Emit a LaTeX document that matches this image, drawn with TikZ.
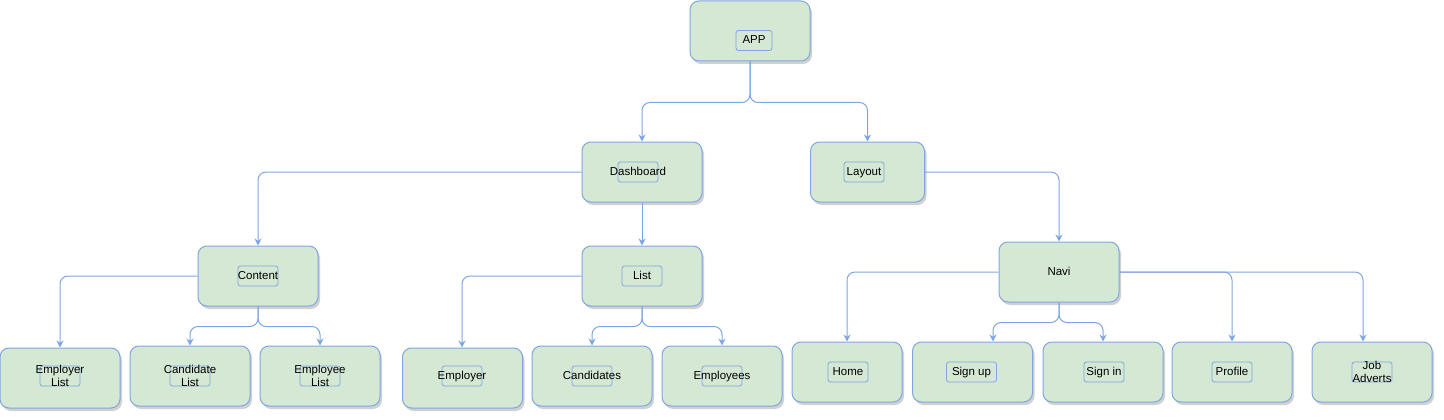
\documentclass[tikz,border=0pt]{standalone}
\usepackage{fontspec}
\setmainfont{Liberation Sans}
\usepackage{xcolor}
\usepackage{tikz}
\usetikzlibrary{arrows.meta,shadows}

\definecolor{boxfill}{HTML}{D5E8D4}
\definecolor{boxline}{HTML}{7EA6E0}

\tikzset{
  box/.style={draw=boxline, fill=boxfill, line width=1pt, rounded corners=9pt,
    minimum width=120pt, minimum height=60pt, inner sep=0pt,
    drop shadow={shadow xshift=2pt, shadow yshift=-3pt, opacity=0.3, fill=black!60}},
  tag/.style={draw=boxline, line width=0.8pt, rounded corners=2.5pt,
    minimum width=40pt, minimum height=20pt, inner sep=0pt},
  txt2/.style={text=black, align=center, inner sep=0pt,
    font=\fontsize{11.5}{12.5}\selectfont},
  txt/.style={txt2, text height=8.3pt, text depth=2.3pt},
  link/.style={draw=boxline, line width=1pt, rounded corners=8pt,
    -{Stealth[length=7pt,width=7pt]}}
}

\begin{document}
\begin{tikzpicture}[x=1pt, y=-1pt]
    \useasboundingbox (0,0) rectangle (1444,420);

    % Top level
    \node[box] (app) at (750,31) {};
    \node[tag, minimum width=36pt, label={[txt]center:APP}] (app-in) at (754,40.5) {};

    % Second level
    \node[box] (dash) at (642,172) {};
    \node[tag, label={[txt]center:Dashboard}] (dash-in) at (638,172) {};
    \node[box, minimum width=114pt] (layout) at (867.5,172) {};
    \node[tag, label={[txt]center:Layout}] (layout-in) at (864,172) {};

    % Third level
    \node[box] (content) at (258,276) {};
    \node[tag, label={[txt]center:Content}] (content-in) at (258,276) {};
    \node[box] (list) at (642,276) {};
    \node[tag, label={[txt]center:List}] (list-in) at (642,276) {};
    \node[box] (navi) at (1059,272) {};
    \node[txt] (navi-in) at (1059,272) {Navi};

    % Leaves under Content
    \node[box] (emplist) at (60,378) {};
    \node[tag, label={[txt2]center:Employer\\List}] (emplist-in) at (60,376) {};
    \node[box] (candlist) at (190,376) {};
    \node[tag, label={[txt2]center:Candidate\\List}] (candlist-in) at (190,376) {};
    \node[box] (eelist) at (320,376) {};
    \node[tag, label={[txt2]center:Employee\\List}] (eelist-in) at (320,376) {};

    % Leaves under List
    \node[box] (employer) at (462.5,378) {};
    \node[tag, label={[txt]center:Employer}] (employer-in) at (462,376) {};
    \node[box] (cands) at (592,376) {};
    \node[tag, label={[txt]center:Candidates}] (cands-in) at (592,376) {};
    \node[box] (emps) at (722,376) {};
    \node[tag, label={[txt]center:Employees}] (emps-in) at (722,376) {};

    % Leaves under Navi
    \node[box, minimum width=110pt] (home) at (847,372) {};
    \node[tag, label={[txt]center:Home}] (home-in) at (848,372) {};
    \node[box] (signup) at (972.5,372) {};
    \node[tag, minimum width=50pt, label={[txt]center:Sign up}] (signup-in) at (971.5,372) {};
    \node[box] (signin) at (1103,372) {};
    \node[tag, label={[txt]center:Sign in}] (signin-in) at (1104,372) {};
    \node[box] (profile) at (1232,372) {};
    \node[tag, label={[txt]center:Profile}] (profile-in) at (1232,372) {};
    \node[box] (jobs) at (1372,372) {};
    \node[tag, label={[txt2]center:Job\\Adverts}] (jobs-in) at (1372,372) {};

    % Connectors
    \draw[link] (app.south) -- ++(0,41) -| (dash.north);
    \draw[link] (app.south) -- ++(0,41) -| (layout.north);
    \draw[link] (dash.west) -| (content.north);
    \draw[link] (dash.south) -- (list.north);
    \draw[link] (layout.east) -| (navi.north);

    \draw[link] (content.west) -| (emplist.north);
    \draw[link] (content.south) -- ++(0,20) -| (candlist.north);
    \draw[link] (content.south) -- ++(0,20) -| (eelist.north);

    \draw[link] (list.west) -| ([xshift=-0.5pt]employer.north);
    \draw[link] (list.south) -- ++(0,20) -| (cands.north);
    \draw[link] (list.south) -- ++(0,20) -| (emps.north);

    \draw[link] (navi.west) -| (home.north);
    \draw[link] (navi.south) -- ++(0,20) -| ([xshift=20.5pt]signup.north);
    \draw[link] (navi.south) -- ++(0,20) -| (signin.north);
    \draw[link] (navi.east) -| (profile.north);
    \draw[link] (navi.east) -| ([xshift=-9pt]jobs.north);

\end{tikzpicture}
\end{document}
